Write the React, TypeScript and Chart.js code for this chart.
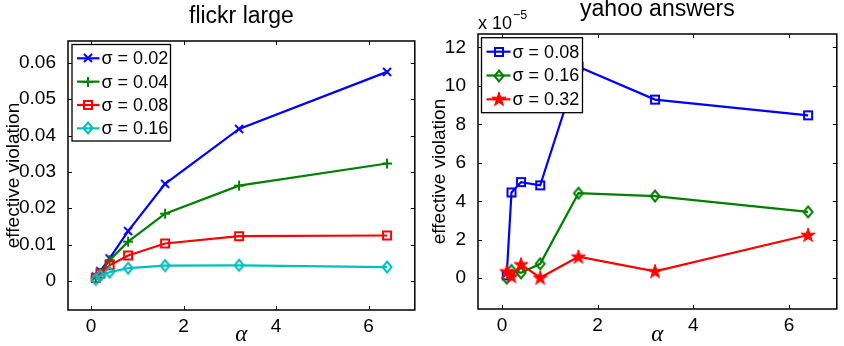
import React, { useEffect, useRef } from 'react';
import { Chart, registerables } from 'chart.js';

Chart.register(...registerables);

// ---------- data ----------
const alphas = [0.1, 0.2, 0.4, 0.8, 1.6, 3.2, 6.4];
const xTicks = [0, 2, 4, 6];

// flickr large
const flickrSigma002 = [0.0012, 0.0027, 0.0062, 0.0137, 0.0267, 0.0418, 0.0575];
const flickrSigma004 = [0.001, 0.0022, 0.0057, 0.0108, 0.0185, 0.0262, 0.0323];
const flickrSigma008 = [0.0008, 0.002, 0.0043, 0.007, 0.0103, 0.0123, 0.0125];
const flickrSigma016 = [0.0004, 0.0014, 0.0024, 0.0035, 0.0042, 0.0043, 0.0038];
const flickrLabels = ['σ = 0.02', 'σ = 0.04', 'σ = 0.08', 'σ = 0.16'];
const flickrYTicks = [0, 0.01, 0.02, 0.03, 0.04, 0.05, 0.06];
const flickrYTickLabels = ['0', '0.01', '0.02', '0.03', '0.04', '0.05', '0.06'];

// yahoo answers (values in units of 1e-5)
const yahooSigma008 = [0.15, 4.46, 5.0, 4.83, 11.0, 9.29, 8.47];
const yahooSigma016 = [0.0, 0.4, 0.28, 0.75, 4.42, 4.27, 3.45];
const yahooSigma032 = [0.35, 0.1, 0.72, 0.03, 1.12, 0.36, 2.25];
const yahooLabels = ['σ = 0.08', 'σ = 0.16', 'σ = 0.32'];
const yahooYTicks = [0, 2, 4, 6, 8, 10, 12];
const yahooYTickLabels = ['0', '2', '4', '6', '8', '10', '12'];

const BLUE = '#0000ff';
const GREEN = '#008000';
const RED = '#ff0000';
const CYAN = '#00bfbf';

const SANS = '"Liberation Sans", Arial, Helvetica, sans-serif';

// ---------- markers ----------
function makeMarker(kind: string, color: string): HTMLCanvasElement {
  const s = 18;
  const c = document.createElement('canvas');
  c.width = s;
  c.height = s;
  const ctx = c.getContext('2d') as CanvasRenderingContext2D;
  const m = s / 2;
  ctx.strokeStyle = color;
  ctx.fillStyle = color;
  ctx.lineWidth = 2;
  ctx.beginPath();
  if (kind === 'x') {
    const r = 4;
    ctx.moveTo(m - r, m - r);
    ctx.lineTo(m + r, m + r);
    ctx.moveTo(m + r, m - r);
    ctx.lineTo(m - r, m + r);
    ctx.stroke();
  } else if (kind === '+') {
    const r = 5;
    ctx.moveTo(m - r, m);
    ctx.lineTo(m + r, m);
    ctx.moveTo(m, m - r);
    ctx.lineTo(m, m + r);
    ctx.stroke();
  } else if (kind === 'square') {
    ctx.rect(m - 4, m - 4, 8, 8);
    ctx.stroke();
  } else if (kind === 'diamond') {
    ctx.moveTo(m, m - 5.5);
    ctx.lineTo(m + 4.5, m);
    ctx.lineTo(m, m + 5.5);
    ctx.lineTo(m - 4.5, m);
    ctx.closePath();
    ctx.stroke();
  } else if (kind === 'star') {
    const R = 7.5;
    const r = R * 0.382;
    for (let k = 0; k < 10; k++) {
      const ang = -Math.PI / 2 + (k * Math.PI) / 5;
      const rad = k % 2 === 0 ? R : r;
      const px = m + rad * Math.cos(ang);
      const py = m + 0.5 + rad * Math.sin(ang);
      if (k === 0) ctx.moveTo(px, py);
      else ctx.lineTo(px, py);
    }
    ctx.closePath();
    ctx.fill();
    ctx.lineWidth = 1;
    ctx.stroke();
  }
  return c;
}

// ---------- decoration plugin ----------
const decorPlugin = {
  id: 'decor',
  afterDatasetsDraw(chart: any, _args: any, opts: any) {
    const { ctx, chartArea: a } = chart;
    const xs = chart.scales.x;
    const ys = chart.scales.y;
    ctx.save();
    // box
    ctx.strokeStyle = '#000';
    ctx.lineWidth = 1.5;
    ctx.strokeRect(a.left, a.top, a.right - a.left, a.bottom - a.top);
    // inward ticks on all four sides
    const tl = 4;
    ctx.lineWidth = 1;
    ctx.beginPath();
    for (const v of opts.xTicks) {
      const px = Math.round(xs.getPixelForValue(v)) + 0.5;
      ctx.moveTo(px, a.bottom);
      ctx.lineTo(px, a.bottom - tl);
      ctx.moveTo(px, a.top);
      ctx.lineTo(px, a.top + tl);
    }
    for (const v of opts.yTicks) {
      const py = Math.round(ys.getPixelForValue(v)) + 0.5;
      ctx.moveTo(a.left, py);
      ctx.lineTo(a.left + tl, py);
      ctx.moveTo(a.right, py);
      ctx.lineTo(a.right - tl, py);
    }
    ctx.stroke();

    // legend
    const lg = opts.legend;
    ctx.fillStyle = '#fff';
    ctx.fillRect(lg.x, lg.y, lg.w, lg.h);
    ctx.strokeStyle = '#000';
    ctx.lineWidth = 1.3;
    ctx.strokeRect(lg.x, lg.y, lg.w, lg.h);
    ctx.font = '18px ' + SANS;
    ctx.textBaseline = 'middle';
    ctx.textAlign = 'left';
    lg.items.forEach((it: any, i: number) => {
      const cy = lg.firstY + i * lg.rowH;
      ctx.strokeStyle = it.color;
      ctx.lineWidth = 2.2;
      ctx.beginPath();
      ctx.moveTo(lg.lineX0, cy);
      ctx.lineTo(lg.lineX1, cy);
      ctx.stroke();
      const mk = it.marker as HTMLCanvasElement;
      const mx = (lg.lineX0 + lg.lineX1) / 2;
      ctx.drawImage(mk, Math.round(mx - mk.width / 2), Math.round(cy - mk.height / 2));
      ctx.fillStyle = '#000';
      ctx.fillText(it.label, lg.textX, cy + 1);
    });

    // title
    const cx = (a.left + a.right) / 2;
    ctx.fillStyle = '#000';
    ctx.textAlign = 'center';
    ctx.textBaseline = 'alphabetic';
    ctx.font = '23px ' + SANS;
    ctx.fillText(opts.title, cx, opts.titleY);

    // x label (alpha)
    ctx.font = 'italic 23px "Liberation Serif", "DejaVu Serif", serif';
    ctx.fillText('α', cx, 341);

    // y label
    ctx.save();
    ctx.translate(opts.yLabelX, (a.top + a.bottom) / 2);
    ctx.rotate(-Math.PI / 2);
    ctx.font = '19px ' + SANS;
    ctx.textAlign = 'center';
    ctx.textBaseline = 'middle';
    ctx.fillText('effective violation', 0, 0);
    ctx.restore();

    // exponent multiplier
    if (opts.multiplier) {
      ctx.textAlign = 'left';
      ctx.textBaseline = 'alphabetic';
      ctx.font = '18px ' + SANS;
      ctx.fillText('x 10', a.left, 29);
      const w = ctx.measureText('x 10').width;
      ctx.font = '12.5px ' + SANS;
      ctx.fillText('−5', a.left + w + 1, 19);
    }
    ctx.restore();
  },
};

function series(label: string, ys: number[], color: string, marker: HTMLCanvasElement, order: number) {
  return {
    label,
    data: alphas.map((x, i) => ({ x, y: ys[i] })),
    borderColor: color,
    backgroundColor: color,
    borderWidth: 2.2,
    pointStyle: marker,
    pointRadius: 5,
    pointHoverRadius: 5,
    showLine: true,
    tension: 0,
    order,
  };
}

function buildConfig(p: any) {
  const tickFont = { family: SANS, size: 19 };
  return {
    type: 'scatter',
    data: { datasets: p.datasets },
    options: {
      responsive: false,
      animation: false,
      devicePixelRatio: 1,
      events: [],
      layout: { padding: p.padding },
      plugins: {
        legend: { display: false },
        title: { display: false },
        tooltip: { enabled: false },
        decor: p.decor,
      },
      scales: {
        x: {
          type: 'linear',
          min: -0.5,
          max: 7,
          afterBuildTicks: (s: any) => {
            s.ticks = xTicks.map((v) => ({ value: v }));
          },
          afterFit: (s: any) => {
            s.height = p.xHeight;
          },
          ticks: {
            callback: (v: any) => String(v),
            font: tickFont,
            color: '#000',
            padding: -3,
            maxRotation: 0,
            autoSkip: false,
          },
          grid: { display: false },
          border: { display: false },
        },
        y: {
          type: 'linear',
          min: p.yMin,
          max: p.yMax,
          afterBuildTicks: (s: any) => {
            s.ticks = p.yTicks.map((v: number) => ({ value: v }));
          },
          afterFit: (s: any) => {
            s.width = p.yWidth;
          },
          ticks: {
            callback: (_v: any, i: number) => p.yTickLabels[i],
            font: tickFont,
            color: '#000',
            padding: 4,
            autoSkip: false,
          },
          grid: { display: false },
          border: { display: false },
        },
      },
    },
    plugins: [decorPlugin],
  };
}

function ChartCanvas({ make, left }: { make: () => any; left: number }) {
  const ref = useRef<HTMLCanvasElement | null>(null);
  useEffect(() => {
    if (!ref.current) return;
    const chart = new Chart(ref.current, make());
    return () => chart.destroy();
  }, []);
  return (
    <canvas
      ref={ref}
      width={422}
      height={346}
      style={{ position: 'absolute', left, top: 0, width: 422, height: 346, display: 'block' }}
    />
  );
}

function makeFlickr() {
  const mk = [makeMarker('x', BLUE), makeMarker('+', GREEN), makeMarker('square', RED), makeMarker('diamond', CYAN)];
  const colors = [BLUE, GREEN, RED, CYAN];
  const vals = [flickrSigma002, flickrSigma004, flickrSigma008, flickrSigma016];
  const datasets = vals.map((v, i) => series(flickrLabels[i], v, colors[i], mk[i], vals.length - i));
  return buildConfig({
    datasets,
    padding: { left: 0, right: 3, top: 41, bottom: 0 },
    xHeight: 36,
    yWidth: 68,
    yMin: -0.008,
    yMax: 0.066,
    yTicks: flickrYTicks,
    yTickLabels: flickrYTickLabels,
    decor: {
      xTicks,
      yTicks: flickrYTicks,
      title: 'flickr large',
      titleY: 23,
      yLabelX: 14,
      multiplier: false,
      legend: {
        x: 72,
        y: 44.5,
        w: 98.5,
        h: 96.5,
        firstY: 58.3,
        rowH: 23.35,
        lineX0: 77,
        lineX1: 99.5,
        textX: 101.5,
        items: flickrLabels.map((l, i) => ({ label: l, color: colors[i], marker: mk[i] })),
      },
    },
  });
}

function makeYahoo() {
  const mk = [makeMarker('square', BLUE), makeMarker('diamond', GREEN), makeMarker('star', RED)];
  const colors = [BLUE, GREEN, RED];
  const vals = [yahooSigma008, yahooSigma016, yahooSigma032];
  const datasets = vals.map((v, i) => series(yahooLabels[i], v, colors[i], mk[i], vals.length - i));
  return buildConfig({
    datasets,
    padding: { left: 0, right: 1, top: 34, bottom: 0 },
    xHeight: 37,
    yWidth: 56,
    yMin: -1.6,
    yMax: 12.7,
    yTicks: yahooYTicks,
    yTickLabels: yahooYTickLabels,
    decor: {
      xTicks,
      yTicks: yahooYTicks,
      title: 'yahoo answers',
      titleY: 16,
      yLabelX: 18,
      multiplier: true,
      legend: {
        x: 59.5,
        y: 37.7,
        w: 101,
        h: 75,
        firstY: 51.7,
        rowH: 23.8,
        lineX0: 64.5,
        lineX1: 88.5,
        textX: 90.5,
        items: yahooLabels.map((l, i) => ({ label: l, color: colors[i], marker: mk[i] })),
      },
    },
  });
}

export default function App() {
  return (
    <div style={{ position: 'fixed', left: 0, top: 0, width: 844, height: 346, background: '#fff' }}>
      <ChartCanvas make={makeFlickr} left={0} />
      <ChartCanvas make={makeYahoo} left={422} />
    </div>
  );
}
